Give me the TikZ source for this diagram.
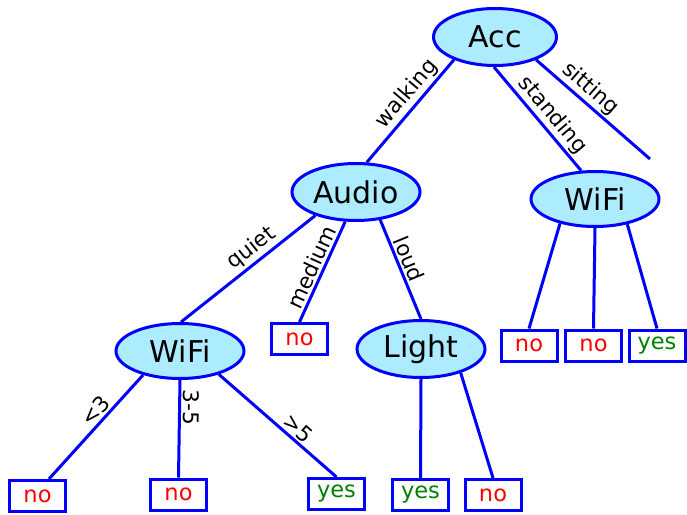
\documentclass[tikz,border=0pt]{standalone}
\usepackage{fontspec}
\setmainfont{DejaVu Sans}
\usetikzlibrary{shapes.geometric}
\definecolor{nodefill}{RGB}{173,236,255}
\definecolor{leafgreen}{RGB}{0,128,0}
\tikzset{
  inner/.style={ellipse, draw=blue, fill=nodefill, line width=3pt, inner sep=0pt,
    minimum width=128pt, minimum height=57pt, font=\fontsize{30}{32}\selectfont},
  leaf/.style={rectangle, draw=blue, fill=white, line width=3pt, inner sep=0pt,
    minimum width=56pt, minimum height=31pt, font=\fontsize{22.5}{25}\selectfont},
  no/.style={leaf, text=red},
  yes/.style={leaf, text=leafgreen},
  edge/.style={draw=blue, line width=3pt},
  elabel/.style={sloped, above, inner sep=2pt, font=\fontsize{21.5}{23}\selectfont}
}
\begin{document}
\begin{tikzpicture}[x=1pt, y=-1pt]
\useasboundingbox (0,0) rectangle (687,514);
% internal nodes
\node[inner, minimum width=123pt] (Acc) at (495,37) {Acc};
\node[inner] (Audio) at (356,192) {Audio};
\node[inner, minimum height=55pt] (WiFiR) at (595,199) {WiFi};
\node[inner, minimum height=55pt] (WiFiL) at (180,351) {WiFi};
\node[inner] (Light) at (421,349) {Light};
% leaves
\node[no] (mno) at (299.5,339) {no};
\node[no] (b1) at (37.5,496) {no};
\node[no] (b2) at (178.5,494.5) {no};
\node[yes] (b3) at (336.5,494) {yes};
\node[yes] (b4) at (420.5,495) {yes};
\node[no] (b5) at (493,495) {no};
\node[no] (r1) at (529,345.5) {no};
\node[no] (r2) at (593.5,345.5) {no};
\node[yes] (r3) at (657,345.5) {yes};
\coordinate (sitend) at (650,159);
% edges
\draw[edge] (Acc.209) -- node[elabel, pos=0.42] {walking} (Audio.70);
\draw[edge] (Acc.268) -- node[elabel, pos=0.55] {standing} (WiFiR.116);
\draw[edge] (Acc.331) -- node[elabel, pos=0.40] {sitting} (sitend);
\draw[edge] (Audio.210) -- node[elabel, pos=0.41] {quiet} (WiFiL.88);
\draw[edge] (Audio.250) -- node[elabel, pos=0.50] {medium} (mno.north);
\draw[edge] (Audio.311) -- node[elabel, pos=0.44] {loud} (Light.north);
\draw[edge] (WiFiL.213) -- node[elabel, pos=0.42] {<3} (b1.56);
\draw[edge] (WiFiL.south) -- node[elabel, allow upside down, pos=0.28] {3-5} (b2.north);
\draw[edge] (WiFiL.329) -- node[elabel, pos=0.61] {>5} (b3.north);
\draw[edge] (Light.south) -- (b4.north);
\draw[edge] (Light.329) -- (b5.north);
\draw[edge] (WiFiR.215) -- (r1.north);
\draw[edge] (WiFiR.south) -- (r2.north);
\draw[edge] (WiFiR.322) -- (r3.north);
\end{tikzpicture}
\end{document}
